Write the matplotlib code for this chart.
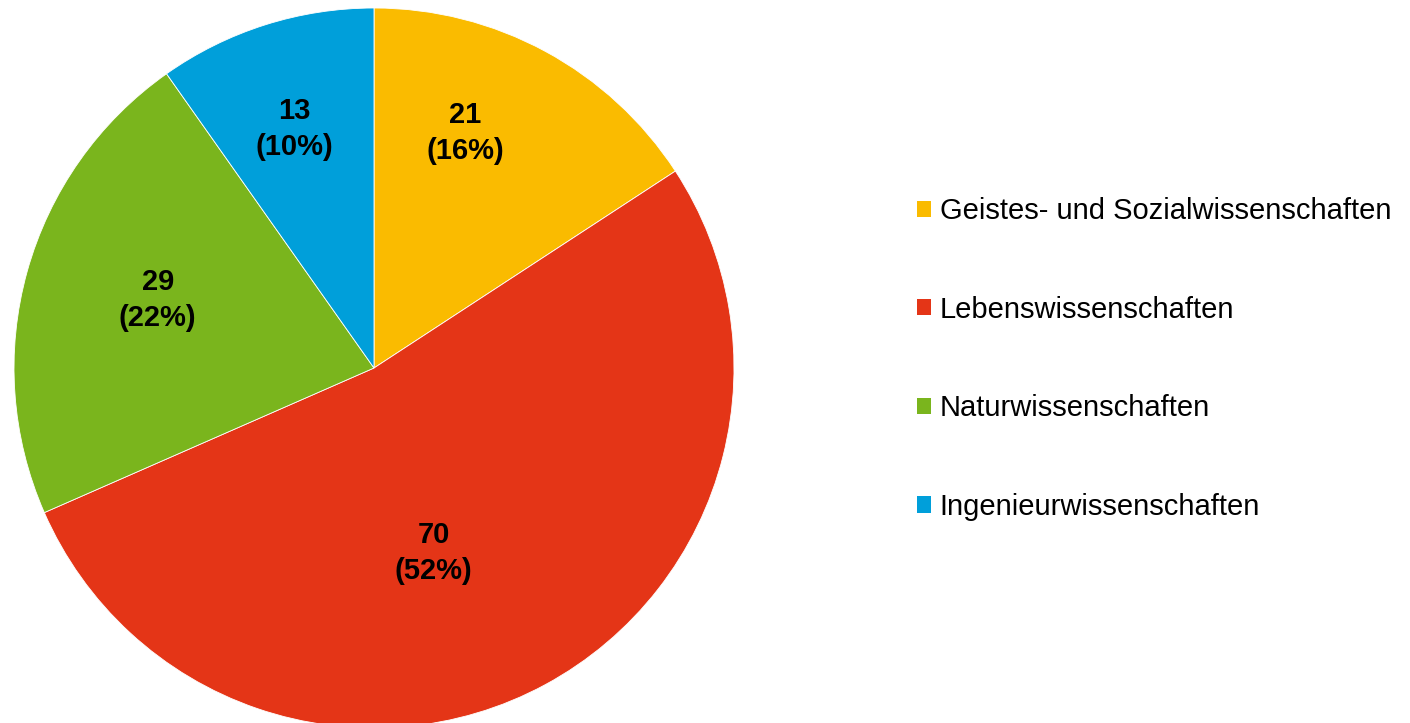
import numpy as np
import matplotlib
matplotlib.use('Agg')
from matplotlib import pyplot as plt
from matplotlib.patches import Patch

# -- data --
categories = ['Geistes- und Sozialwissenschaften', 'Lebenswissenschaften',
              'Naturwissenschaften', 'Ingenieurwissenschaften']
counts = [21, 70, 29, 13]
percents = [16, 52, 22, 10]  # as printed on the chart
colours = ['#FABB00', '#E43517', '#7AB51D', '#009FDA']
# label placement per slice: radius (fraction) and angle shift from mid angle (deg)
label_dist = [0.70, 0.54, 0.63, 0.70]
label_shift = [7.2, -10.5, -1.9, 0.9]

plt.rcParams['font.family'] = ['Liberation Sans', 'DejaVu Sans']

W, H = 1410, 723
fig = plt.figure(figsize=(W / 100, H / 100), dpi=100)
ax = fig.add_axes([0, 0, 1, 1])

cx, cy, r = 374, H - 368, 360
wedges, _ = ax.pie(counts, colors=colours, startangle=90, counterclock=False,
                   center=(cx, cy), radius=r,
                   wedgeprops=dict(edgecolor='white', linewidth=0.6))

# labels: value and percent
for w, n, p, d, s in zip(wedges, counts, percents, label_dist, label_shift):
    mid = np.deg2rad((w.theta1 + w.theta2) / 2 + s)
    x = cx + d * r * np.cos(mid)
    y = cy + d * r * np.sin(mid)
    ax.text(x, y, f'{n}\n({p}%)', ha='center', va='center',
            fontsize=21, fontweight='bold', linespacing=1.36)

ax.set_xlim(0, W)
ax.set_ylim(0, H)
ax.set_aspect('equal')
ax.axis('off')

handles = [Patch(facecolor=c, edgecolor='none') for c in colours]
fig.legend(handles, categories, loc='center left',
           bbox_to_anchor=(917 / W, 1 - 359 / H), frameon=False,
           fontsize=21, handlelength=0.48, handleheight=0.48,
           handletextpad=0.3, labelspacing=2.42, borderpad=0, borderaxespad=0)

fig.savefig('out.png', dpi=100)
